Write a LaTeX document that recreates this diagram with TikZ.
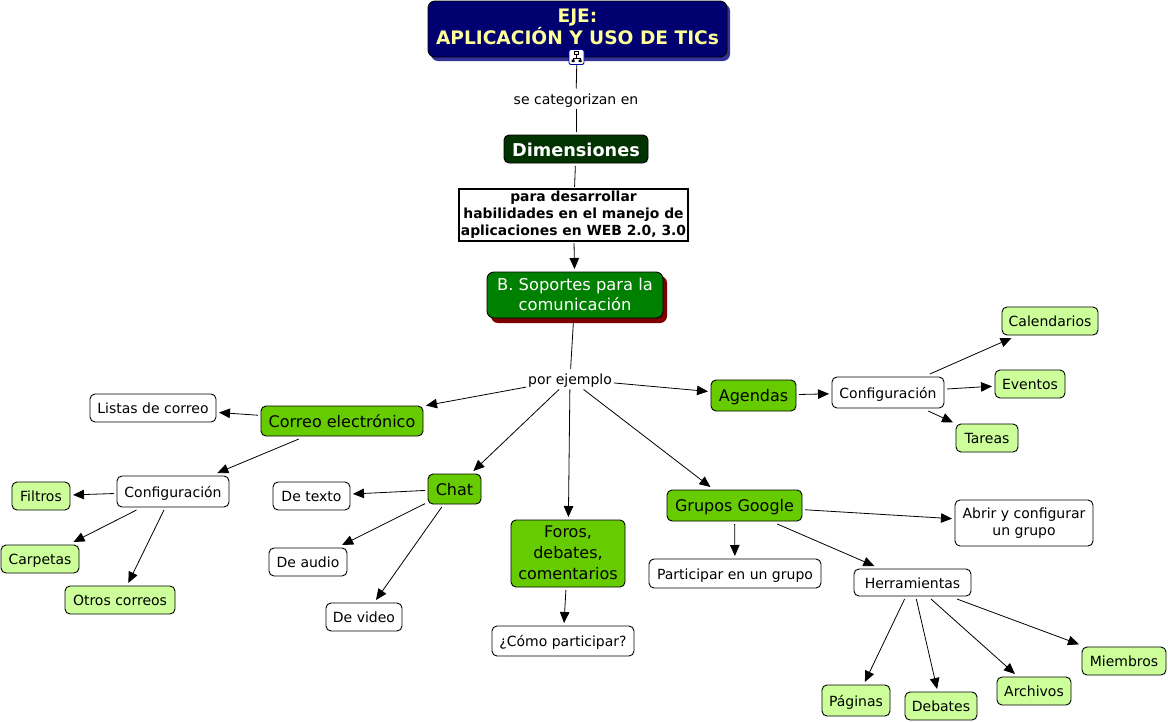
\documentclass[tikz,border=0pt]{standalone}
\usepackage{fontspec}
\setmainfont{DejaVu Sans}
\usetikzlibrary{arrows.meta,positioning}
\definecolor{navyb}{HTML}{000070}
\definecolor{navys}{HTML}{333399}
\definecolor{ltyel}{HTML}{FFFF99}
\definecolor{dkgreen}{HTML}{003300}
\definecolor{midgreen}{HTML}{008000}
\definecolor{maroonb}{HTML}{800000}
\definecolor{limeb}{HTML}{66CC00}
\definecolor{paleb}{HTML}{CCFF99}
\newcommand{\strH}{1}
\newcommand{\strD}{.2}
\newcommand{\lowtext}{\renewcommand{\strH}{1.07}\renewcommand{\strD}{.13}}
\newcommand{\hightext}{\renewcommand{\strH}{.9}\renewcommand{\strD}{.24}}
\tikzset{
  x=1pt,y=-1pt,
  evenlines/.style={execute at begin node={\rule{0pt}{\strH em}},execute at end node={\rule[-\strD em]{0pt}{\strD em}}},
  base/.style={draw=black,line width=0.9pt,rounded corners=5pt,align=center,inner sep=0pt,outer sep=3pt,font=\fontsize{14}{17}\selectfont,text=black,evenlines},
  whitebox/.style={base,fill=white},
  palebox/.style={base,fill=paleb},
  limebox/.style={base,fill=limeb,font=\fontsize{16}{21}\selectfont},
  phrase/.style={inner sep=0pt,outer sep=2pt,font=\fontsize{14}{17}\selectfont,fill=none,evenlines},
  link/.style={line width=0.8pt,draw=black},
  arrow/.style={link,-{Triangle[length=11pt,width=9.5pt]}},
}
\newcommand{\bx}[7]{\node[#1,minimum width=#6-#4,minimum height=#7-#5] (#2) at ({(#4+#6)/2},{(#5+#7)/2}) {#3};}
\begin{document}
\begin{tikzpicture}
\useasboundingbox (0,0) rectangle (1168,721);
\fill[white] (0,0) rectangle (1168,721);
% shadows
\fill[navys,rounded corners=7pt] (431,4) rectangle (730,61);
\fill[maroonb,rounded corners=7pt] (491,276) rectangle (667,323);
% main nodes
\node[base,fill=navyb,draw=black,rounded corners=7pt,minimum width=299,minimum height=56,text=ltyel,font=\hightext\bfseries\fontsize{18.6}{22}\selectfont] (eje) at (577.5,29) {EJE:\\APLICACIÓN Y USO DE TICs};
\node[phrase] (cat) at (576,99) {se categorizan en};
\node[base,fill=dkgreen,text=white,minimum width=144,minimum height=28,font=\bfseries\fontsize{17.7}{22}\selectfont] (dim) at (576,149) {Dimensiones};
\node[draw=black,line width=1.6pt,fill=white,align=center,inner sep=0pt,outer sep=2pt,minimum width=229,minimum height=52,evenlines,font=\bfseries\fontsize{13.9}{17}\selectfont] (para) at (573.5,215) {para desarrollar\\habilidades en el manejo de\\aplicaciones en WEB 2.0, 3.0};
\node[base,fill=midgreen,text=white,rounded corners=7pt,minimum width=176,minimum height=46,font=\lowtext\fontsize{16.3}{20}\selectfont] (sop) at (575,295) {B. Soportes para la\\comunicación};
\node[phrase] (ej) at (570,379) {por ejemplo};
\bx{limebox}{age}{Agendas}{711}{380}{796}{411}
\bx{whitebox}{cfa}{Configuración}{832}{377}{944}{408}
\bx{palebox}{cal}{Calendarios}{1002}{307}{1098}{335}
\bx{palebox}{eve}{Eventos}{995}{370}{1065}{398}
\bx{palebox}{tar}{Tareas}{956}{424}{1018}{452}
\bx{limebox}{cor}{Correo electrónico}{261}{406}{423}{436}
\bx{whitebox}{lis}{Listas de correo}{90}{394}{216}{422}
\bx{whitebox}{cfb}{Configuración}{117}{476}{229}{507}
\bx{palebox}{fil}{Filtros}{12}{482}{70}{510}
\bx{palebox}{car}{Carpetas}{1}{545}{79}{573}
\bx{palebox}{otr}{Otros correos}{65}{586}{175}{614}
\bx{limebox}{cha}{Chat}{428}{474}{481}{504}
\bx{whitebox}{tex}{De texto}{273}{482}{350}{510}
\bx{whitebox}{aud}{De audio}{269}{548}{347}{576}
\bx{whitebox}{vid}{De video}{326}{603}{402}{631}
\bx{limebox,font=\lowtext\fontsize{16}{21}\selectfont}{for}{Foros,\\debates,\\comentarios}{511}{520}{625}{587}
\bx{whitebox}{com}{¿Cómo participar?}{492}{626}{634}{656}
\bx{limebox}{gru}{Grupos Google}{667}{490}{802}{521}
\bx{whitebox}{abr}{Abrir y configurar\\un grupo}{955}{500}{1093}{546}
\bx{whitebox}{par}{Participar en un grupo}{649}{559}{821}{588}
\bx{whitebox}{her}{Herramientas}{854}{569}{971}{596}
\bx{palebox}{pag}{Páginas}{822}{685}{890}{716}
\bx{palebox}{deb}{Debates}{905}{692}{977}{720}
\bx{palebox}{arc}{Archivos}{997}{677}{1071}{705}
\bx{palebox}{mie}{Miembros}{1082}{647}{1166}{675}
% connectors
\draw[link] (eje) -- (cat);
\draw[link] (cat) -- (dim);
\draw[link] (dim) -- (para);
\draw[arrow] (para) -- (sop);
\draw[link] (sop) -- (ej);
\foreach \t in {age,cor,cha,for,gru} \draw[arrow] (ej) -- (\t);
\draw[arrow] (age) -- (cfa);
\foreach \t in {cal,eve,tar} \draw[arrow] (cfa) -- (\t);
\draw[arrow] (cor) -- (lis);
\draw[arrow] (cor) -- (cfb);
\foreach \t in {fil,car,otr} \draw[arrow] (cfb) -- (\t);
\foreach \t in {tex,aud,vid} \draw[arrow] (cha) -- (\t);
\draw[arrow] (for) -- (com);
\foreach \t in {abr,par,her} \draw[arrow] (gru) -- (\t);
\foreach \t in {pag,deb,arc,mie} \draw[arrow] (her) -- (\t);
% concept-map icon
\node[draw=blue!70!black,fill=white,line width=0.9pt,rounded corners=2pt,minimum size=15pt,inner sep=0pt] (ico) at (576.5,57) {};
\draw[black,line width=0.6pt] (574.5,51.5) rectangle (578.5,54) (576.5,54) -- (576.5,58) (573,58) -- (580,58) (573,58) -- (573,59.5) (580,58) -- (580,59.5);
\fill[black] (571.5,59.5) rectangle (574.5,62) (578.5,59.5) rectangle (581.5,62);
\end{tikzpicture}
\end{document}
